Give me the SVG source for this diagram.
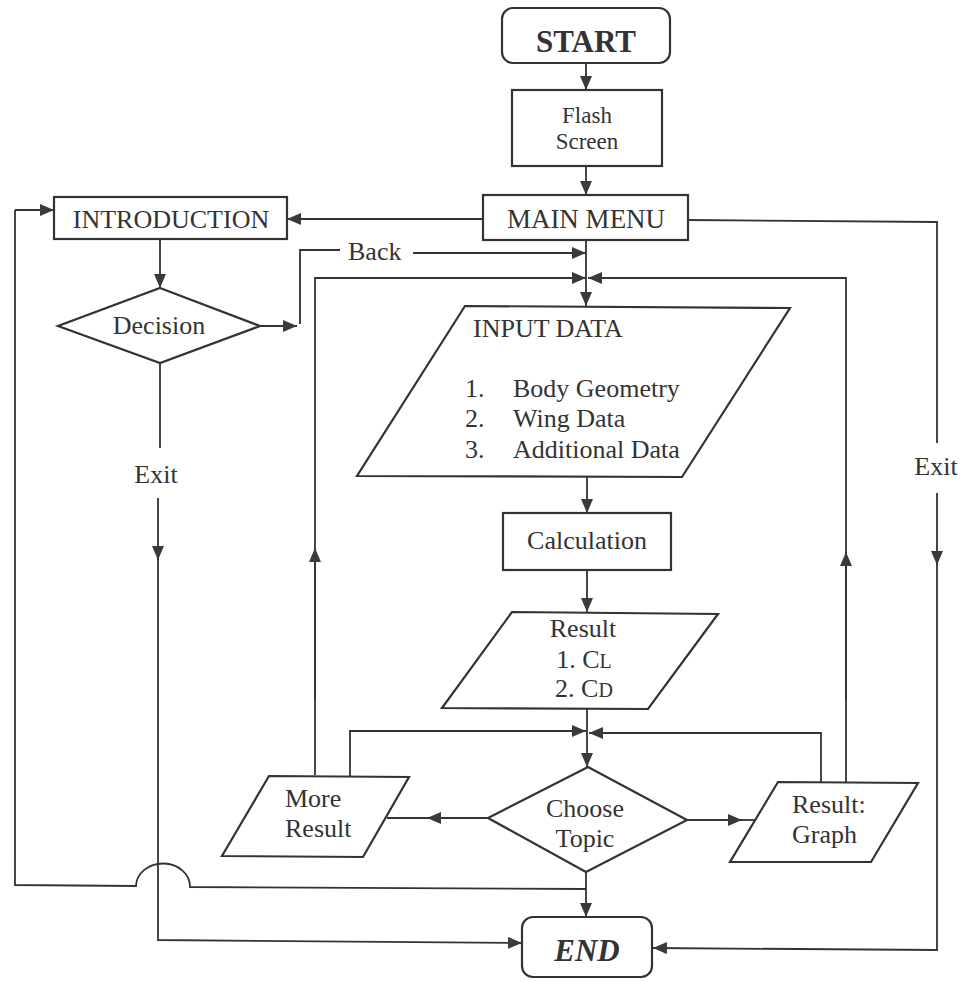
<svg xmlns="http://www.w3.org/2000/svg" width="962" height="982" viewBox="0 0 962 982">
<defs>
<marker id="arr" markerUnits="userSpaceOnUse" markerWidth="14" markerHeight="12" refX="14" refY="6" orient="auto">
<path d="M0,0 L14,6 L0,12 z" fill="#3a3a3a"/>
</marker>
<style>
.box{fill:#fff;stroke:#333;stroke-width:2.2}
.ln{fill:none;stroke:#333;stroke-width:1.8}
.la{fill:none;stroke:#333;stroke-width:1.8;marker-end:url(#arr)}
.t{font-family:'Liberation Serif','Times New Roman','DejaVu Serif',serif;font-size:26px;fill:#333;text-anchor:middle}
.s{text-anchor:start}
</style>
</defs>
<rect width="962" height="982" fill="#fff"/>

<g id="connectors">
<path class="la" d="M586,63 L586,90"/>
<path class="la" d="M586,166 L586,195"/>
<path class="la" d="M483,219 L287,219"/>
<path class="la" d="M160,239 L160,288"/>
<path class="la" d="M260,326 L297,326"/>
<path class="ln" d="M300,324 L300,250 L340,250"/>
<path class="la" d="M413,253 L586,253"/>
<path class="la" d="M586,240 L586,306"/>
<path class="la" d="M315,775 L315,278 L586,278"/>
<path class="la" d="M846,782 L846,278 L588,278"/>
<path class="la" d="M315,700 L315,548"/>
<path class="la" d="M846,700 L846,552"/>
<path class="la" d="M587,477 L587,513"/>
<path class="la" d="M587,570 L587,612"/>
<path class="la" d="M587,709 L587,767"/>
<path class="la" d="M350,776 L350,731 L586,731"/>
<path class="la" d="M821,782 L821,733 L589,733"/>
<path class="la" d="M488,818 L427,818"/>
<path class="ln" d="M430,818 L387,818"/>
<path class="la" d="M687,820 L742,820"/>
<path class="ln" d="M740,820 L756,820"/>
<path class="la" d="M586,872 L586,917"/>
<path class="ln" d="M586,889 L190,887 A27,23 0 0 0 136,886 L15,885 L15,210"/>
<path class="la" d="M15,210 L54,210"/>
<path class="ln" d="M160,363 L160,448"/>
<path class="la" d="M158,498 L158,560"/>
<path class="la" d="M158,555 L158,940 L522,943"/>
<path class="ln" d="M688,220 L937,222 L937,443"/>
<path class="la" d="M937,493 L937,565"/>
<path class="la" d="M937,560 L937,950 L653,948"/>
</g>

<g id="nodes" font-family="Liberation Serif, Times New Roman, serif">
<g id="start">
<rect class="box" x="502" y="8" width="168" height="55" rx="11"/>
<text class="t" x="586" y="52" style="font-size:31px;font-weight:bold">START</text>
</g>
<g id="flash">
<rect class="box" x="512" y="90" width="150" height="76"/>
<text class="t" x="587" y="123" style="font-size:23px">Flash</text>
<text class="t" x="587" y="149" style="font-size:23px">Screen</text>
</g>
<g id="mainmenu">
<rect class="box" x="483" y="195" width="205" height="45"/>
<text class="t" x="586" y="228" style="font-size:27px">MAIN MENU</text>
</g>
<g id="intro">
<rect class="box" x="54" y="197" width="233" height="42"/>
<text class="t" x="171" y="228">INTRODUCTION</text>
</g>
<g id="decision">
<polygon class="box" points="160,288 260,326 160,363 58,326"/>
<text class="t" x="159" y="334">Decision</text>
</g>
<g id="back">
<text class="t s" x="348" y="260">Back</text>
</g>
<g id="inputdata">
<polygon class="box" points="465,306 790,308 682,477 357,476"/>
<text class="t s" x="473" y="337">INPUT DATA</text>
<text class="t s" x="465" y="397">1.</text>
<text class="t s" x="513" y="397">Body Geometry</text>
<text class="t s" x="465" y="427">2.</text>
<text class="t s" x="513" y="427">Wing Data</text>
<text class="t s" x="465" y="458">3.</text>
<text class="t s" x="513" y="458">Additional Data</text>
</g>
<g id="calc">
<rect class="box" x="503" y="513" width="168" height="57"/>
<text class="t" x="587" y="549">Calculation</text>
</g>
<g id="result">
<polygon class="box" points="512,612 718,614 648,709 442,708"/>
<text class="t" x="583" y="637">Result</text>
<text class="t" x="584" y="668">1. C<tspan style="font-size:20px">L</tspan></text>
<text class="t" x="584" y="697">2. C<tspan style="font-size:20px">D</tspan></text>
</g>
<g id="choose">
<polygon class="box" points="588,767 687,820 586,872 488,818"/>
<text class="t" x="585" y="817">Choose</text>
<text class="t" x="585" y="847">Topic</text>
</g>
<g id="more">
<polygon class="box" points="269,776 409,777 363,857 222,856"/>
<text class="t s" x="285" y="807">More</text>
<text class="t s" x="285" y="837">Result</text>
</g>
<g id="graph">
<polygon class="box" points="778,782 918,783 871,862 730,862"/>
<text class="t s" x="792" y="813">Result:</text>
<text class="t s" x="792" y="843">Graph</text>
</g>
<g id="exit-left">
<text class="t" x="156" y="483">Exit</text>
</g>
<g id="exit-right">
<text class="t" x="936" y="475">Exit</text>
</g>
<g id="end">
<rect class="box" x="522" y="917" width="130" height="60" rx="11"/>
<text class="t" x="587" y="961" style="font-size:31px;font-weight:bold;font-style:italic">END</text>
</g>
</g>
</svg>
